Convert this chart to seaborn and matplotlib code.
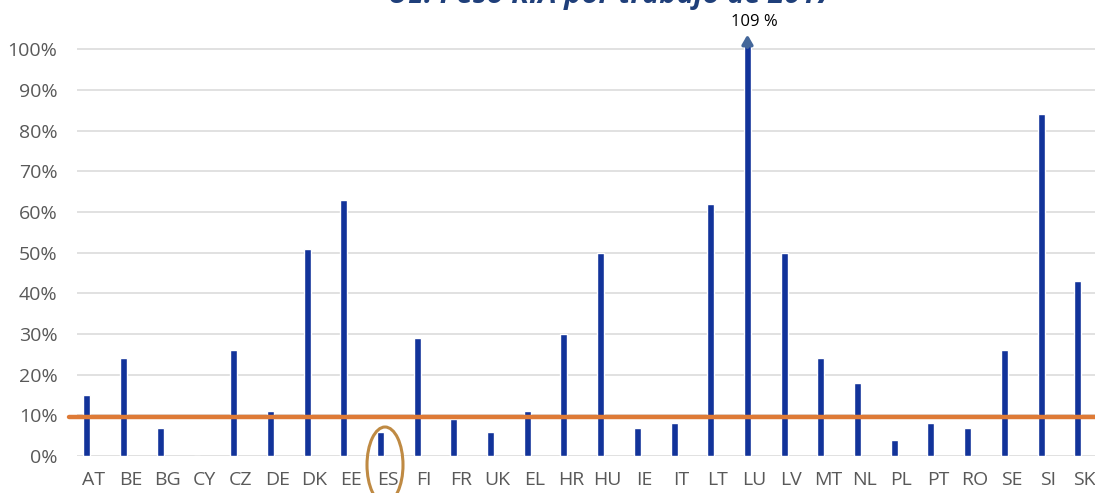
import matplotlib
matplotlib.use("Agg")
import matplotlib.pyplot as plt
import matplotlib.transforms as mtransforms
from matplotlib.patches import Ellipse
import seaborn as sns
import pandas as pd

countries = ["AT", "BE", "BG", "CY", "CZ", "DE", "DK", "EE", "ES", "FI", "FR", "UK", "EL", "HR",
             "HU", "IE", "IT", "LT", "LU", "LV", "MT", "NL", "PL", "PT", "RO", "SE", "SI", "SK"]
shares = [15, 24, 7, 0, 26, 11, 51, 63, 6, 29, 9, 6, 11, 30,
          50, 7, 8, 62, 109, 50, 24, 18, 4, 8, 7, 26, 84, 43]
reference_level = 9.5
ytick_values = [0, 10, 20, 30, 40, 50, 60, 70, 80, 90, 100]
ytick_labels = [f"{v}%" for v in ytick_values]
title_text = "UE: Peso RIA por trabajo de 2017"

df = pd.DataFrame({"country": countries, "share": shares})

sns.set_style("white")
plt.rcParams["font.family"] = ["Open Sans", "DejaVu Sans"]

fig = plt.figure(figsize=(10.95, 4.93), dpi=100)
ax = fig.add_axes([77 / 1095, 37 / 493, 1 - 77 / 1095, (447 - 37) / 493])

sns.barplot(data=df, x="country", y="share", color="#12339A", width=0.19,
            saturation=1, ax=ax, zorder=3)

ax.set_ylim(0, 100.8)
ax.set_xlim(-0.27, 27.47)
ax.set_yticks(ytick_values)
ax.set_yticklabels(ytick_labels)
ax.yaxis.grid(True, color="#D9D9D9", linewidth=1.1, zorder=0)
ax.set_axisbelow(True)
for s in ax.spines.values():
    s.set_visible(False)
ax.tick_params(axis="both", length=0, labelsize=14, labelcolor="#595959")
ax.tick_params(axis="y", pad=14)
ax.tick_params(axis="x", pad=11)
ax.set_xlabel("")
ax.set_ylabel("")

# country labels sit a little to the right of each bar
shift = mtransforms.ScaledTranslation(7 / 100, 0, fig.dpi_scale_trans)
for lbl in ax.get_xticklabels():
    lbl.set_transform(lbl.get_transform() + shift)

# EU reference line
ax.axhline(reference_level, xmin=-0.008, xmax=1, color="#DE7A36", linewidth=3.2,
           zorder=4, clip_on=False)

# LU exceeds the scale: arrow and value label above the bar
lu = countries.index("LU")
ax.annotate("", xy=(lu, 103.6), xytext=(lu, 100.5), xycoords="data",
            arrowprops=dict(arrowstyle="-|>,head_width=0.32,head_length=0.55",
                            color="#44679A", lw=2.5, shrinkA=0, shrinkB=0),
            annotation_clip=False)
ax.text(lu + 0.2, 106.8, f"{shares[lu]} %", ha="center", va="center", fontsize=12,
        color="black", clip_on=False)

# highlight Spain
es_x = 385 / 1095
fig.patches.append(Ellipse((es_x, 1 - 465 / 493), 36 / 1095, 76 / 493,
                           transform=fig.transFigure, fill=False,
                           edgecolor="#BF8A43", linewidth=2.2))

fig.text(610 / 1095, 1 - 3 / 493, title_text, ha="center", va="baseline",
         fontsize=21, fontweight="bold", fontstyle="italic", color="#1F3F7A")

fig.savefig("out.png", dpi=100)
